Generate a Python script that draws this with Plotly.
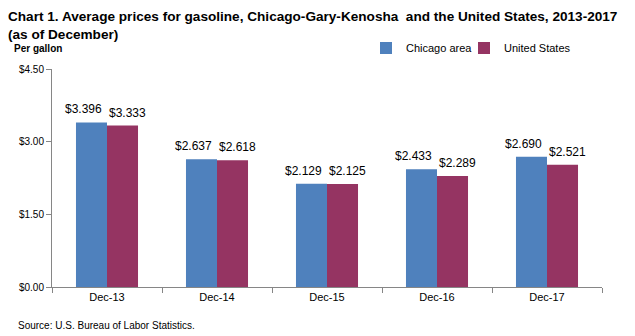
import plotly.graph_objects as go

categories = ["Dec-13", "Dec-14", "Dec-15", "Dec-16", "Dec-17"]
chicago = [3.396, 2.637, 2.129, 2.433, 2.690]
us = [3.333, 2.618, 2.125, 2.289, 2.521]
tick_vals = [0, 1.5, 3.0, 4.5]
tick_text = ["$0.00", "$1.50", "$3.00", "$4.50"]

REG = "Liberation Sans, Arial, sans-serif"
BLUE = "#4F81BD"
PURPLE = "#953462"

fig = go.Figure()
fig.add_trace(go.Bar(
    x=categories, y=chicago, name="Chicago area",
    marker=dict(color=BLUE, line=dict(width=0)), legend="legend",
))
fig.add_trace(go.Bar(
    x=categories, y=us, name="United States",
    marker=dict(color=PURPLE, line=dict(width=0)), legend="legend2",
))

# data labels placed above each bar of the group
annotations = []
for cat, v in zip(categories, chicago):
    annotations.append(dict(x=cat, y=v, xref="x", yref="y", text=f"${v:.3f}",
                            showarrow=False, xanchor="center", yanchor="bottom",
                            xshift=-24, yshift=4,
                            font=dict(family=REG, size=12, color="#000000")))
for cat, v in zip(categories, us):
    annotations.append(dict(x=cat, y=v, xref="x", yref="y", text=f"${v:.3f}",
                            showarrow=False, xanchor="center", yanchor="bottom",
                            xshift=20, yshift=4,
                            font=dict(family=REG, size=12, color="#000000")))

annotations += [
    dict(text="<b>Chart 1. Average prices for gasoline, Chicago-Gary-Kenosha  and the United States, 2013-2017</b><br><b>(as of December)</b>",
         xref="paper", yref="paper", x=-52/550, y=1 + 69/218, xanchor="left", yanchor="top",
         align="left", showarrow=False,
         font=dict(family=REG, size=13.6, color="#000000"), xshift=6, yshift=-7),
    dict(text="<b>Per gallon</b>", xref="paper", yref="paper", x=-52/550, y=1,
         xanchor="left", yanchor="middle", showarrow=False, xshift=12, yshift=21,
         font=dict(family=REG, size=10, color="#000000")),
    dict(text="Source: U.S. Bureau of Labor Statistics.", xref="paper", yref="paper",
         x=-52/550, y=0, xanchor="left", yanchor="middle", showarrow=False,
         xshift=16, yshift=-38,
         font=dict(family=REG, size=10, color="#000000")),
]

legend_common = dict(orientation="h", xanchor="left", y=1 + 21 / 218, yanchor="middle",
                     font=dict(family=REG, size=11, color="#000000"),
                     itemwidth=30, bgcolor="rgba(0,0,0,0)")

fig.update_layout(
    width=635, height=336,
    margin=dict(l=52, r=33, t=69, b=49),
    paper_bgcolor="white", plot_bgcolor="white",
    barmode="group", bargap=0.436, bargroupgap=0,
    showlegend=True,
    legend=dict(x=(366 - 52) / 550, **legend_common),
    legend2=dict(x=(464 - 52) / 550, **legend_common),
    font=dict(family=REG, color="#000000"),
    xaxis=dict(
        type="category", tickson="boundaries", ticks="outside", ticklen=5,
        tickcolor="#868686", showline=True, linecolor="#868686", linewidth=1,
        tickfont=dict(family=REG, size=11, color="#000000"),
        showgrid=False, zeroline=False,
    ),
    yaxis=dict(
        range=[0, 4.5], tickvals=tick_vals, ticktext=tick_text,
        ticks="outside", ticklen=5, tickcolor="#868686",
        showline=True, linecolor="#868686", linewidth=1,
        tickfont=dict(family=REG, size=10, color="#000000"),
        showgrid=False, zeroline=False,
    ),
    annotations=annotations,
)

fig.write_html("out.html")
